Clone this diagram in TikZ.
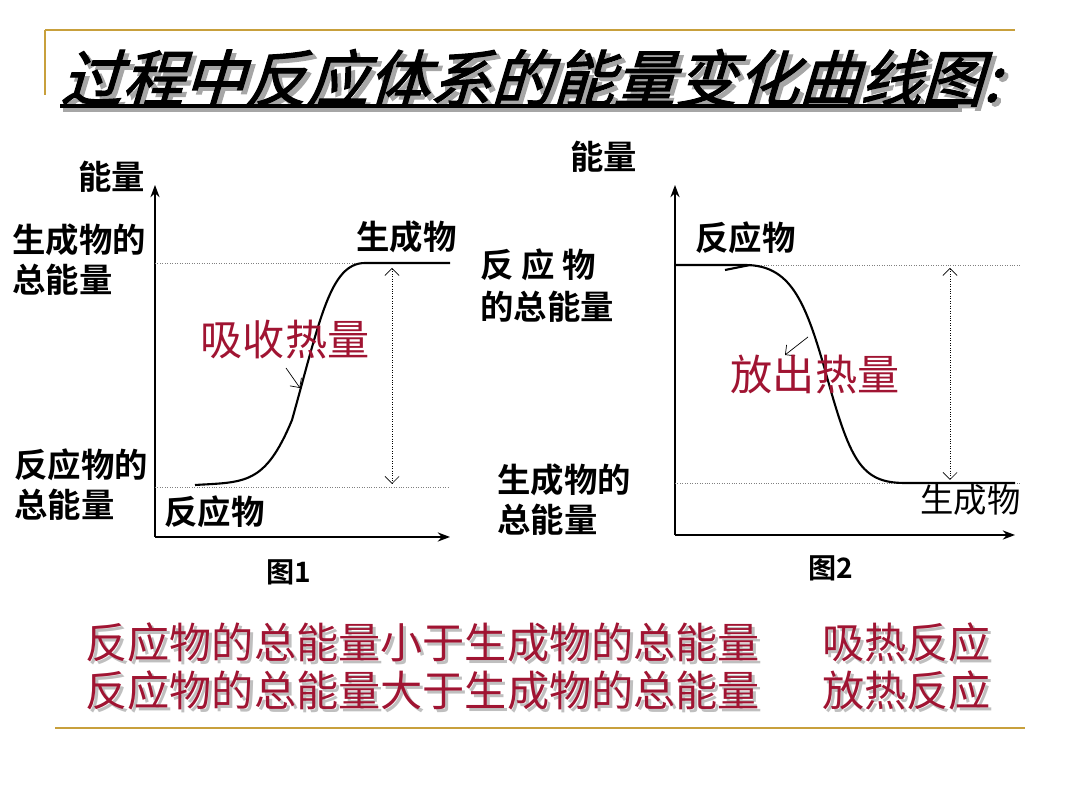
\documentclass[tikz,border=0pt]{standalone}
\usepackage{fontspec}
\setmainfont{Noto Sans CJK SC}
\newfontfamily\cjkb[BoldFont={* Bold}]{Noto Sans CJK SC}
\newfontfamily\cjkslant[FakeSlant=0.3,FakeBold=2]{Noto Sans CJK SC}
\usetikzlibrary{arrows.meta}
\definecolor{gold}{RGB}{200,160,60}
\definecolor{heat}{RGB}{160,20,50}
\tikzset{
  lbl/.style={font=\cjkb\bfseries\fontsize{19}{21}\selectfont, inner sep=0pt, anchor=west},
  redlbl/.style={font=\fontsize{24}{26}\selectfont, text=heat, inner sep=0pt},
  axis/.style={-{Stealth[length=7pt]}, thick},
  level/.style={densely dotted, gray},
  gap/.style={densely dotted, {Straight Barb[open,length=4pt]}-{Straight Barb[open,length=4pt]}},
  curve/.style={line width=1.2pt},
}
\begin{document}
\begin{tikzpicture}[x=0.02cm,y=-0.02cm]
  \useasboundingbox (0,0) rectangle (1080,810);
  % frame
  \draw[gold, thick] (45,30) -- (1015,30);
  \draw[gold, thick] (45,30) -- (45,95);
  \draw[gold, thick] (55,728) -- (1025,728);
  % title
  \node[font=\cjkslant\fontsize{35}{38}\selectfont, text=gray!70, anchor=west, inner sep=0pt] at (64,82) {过程中反应体系的能量变化曲线图:};
  \node (title) [font=\cjkslant\fontsize{35}{38}\selectfont, anchor=west, inner sep=0pt] at (60,78) {过程中反应体系的能量变化曲线图:};
  \draw[gray!70, line width=2pt] (63,110) -- (962,110);
  \draw[line width=2pt] (60,106) -- (958,106);

  % figure 1
  \coordinate (o1) at (155,537);
  \draw[axis] (o1) -- (155,185);
  \draw[axis] (o1) -- (450,537);
  \draw[level] (155,263) -- (450,263);
  \draw[level] (155,487) -- (450,487);
  \draw[curve] (195,485) .. controls (245,482) and (265,485) .. (292,420)
    .. controls (320,320) and (330,263) .. (365,263) -- (450,263);
  \draw[gap] (392,268) -- (392,484);
  \coordinate (p1) at (286,368);
  \draw[-{Straight Barb[length=4pt]}] (p1) -- (300,388);
  \node[lbl] at (78,177) {能量};
  \node[lbl] at (12,240) {生成物的};
  \node[lbl] at (12,280) {总能量};
  \node[lbl] at (356,237) {生成物};
  \node[redlbl] at (285,340) {吸收热量};
  \node[lbl] at (14,465) {反应物的};
  \node[lbl] at (14,505) {总能量};
  \node[lbl] at (164,512) {反应物};
  \node[lbl, font=\cjkb\bfseries\fontsize{16}{18}\selectfont] at (266,572) {图1};

  % figure 2
  \coordinate (o2) at (675,535);
  \draw[axis] (o2) -- (675,185);
  \draw[axis] (o2) -- (1015,535);
  \draw[level] (675,265) -- (1020,265);
  \draw[level] (675,483) -- (1020,483);
  \draw[curve] (675,265) -- (745,265) .. controls (790,265) and (805,300) .. (825,370)
    .. controls (850,460) and (860,483) .. (905,483) -- (1015,483);
  \draw[curve] (725,270) -- (750,265);
  \draw[gap] (950,268) -- (950,480);
  \coordinate (p2) at (808,337);
  \draw[-{Straight Barb[length=4pt]}] (p2) -- (785,355);
  \node[lbl] at (570,157) {能量};
  \node[lbl] at (695,238) {反应物};
  \node[lbl] at (480,265) {反\ 应\ 物};
  \node[lbl] at (480,307) {的总能量};
  \node[redlbl] at (815,375) {放出热量};
  \node[lbl] at (497,480) {生成物的};
  \node[lbl] at (497,520) {总能量};
  \node[lbl, font=\fontsize{19}{21}\selectfont] at (920,500) {生成物};
  \node[lbl, font=\cjkb\bfseries\fontsize{16}{18}\selectfont] at (808,568) {图2};

  % conclusion
  \foreach \y/\a/\b in {642/小于/吸热反应, 690/大于/放热反应} {
    \node[anchor=west, inner sep=0pt, font=\fontsize{24}{26}\selectfont, text=gray!50] at (88,\y+3) {反应物的总能量\a 生成物的总能量};
    \node[anchor=west, inner sep=0pt, font=\fontsize{24}{26}\selectfont, text=heat] at (85,\y) {反应物的总能量\a 生成物的总能量};
    \node[anchor=west, inner sep=0pt, font=\fontsize{24}{26}\selectfont, text=gray!50] at (825,\y+3) {\b};
    \node[anchor=west, inner sep=0pt, font=\fontsize{24}{26}\selectfont, text=heat] at (822,\y) {\b};
  }
\end{tikzpicture}
\end{document}
